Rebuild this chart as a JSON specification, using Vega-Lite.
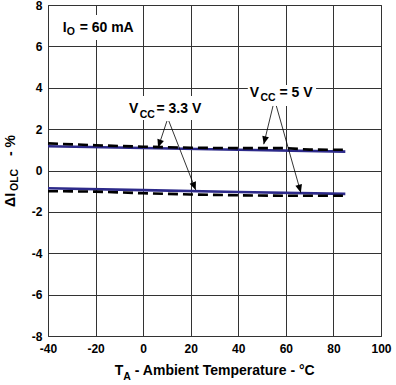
{
  "$schema": "https://vega.github.io/schema/vega-lite/v6.json",
  "width": 333,
  "height": 331,
  "autosize": {"type": "none"},
  "padding": {"left": 48, "top": 5, "right": 15, "bottom": 49},
  "background": "white",
  "config": {
    "view": {"stroke": "#333333", "strokeWidth": 1},
    "font": "Liberation Sans",
    "axis": {
      "grid": true,
      "gridColor": "#333333",
      "gridWidth": 1,
      "gridOpacity": 1,
      "ticks": false,
      "domain": false,
      "labelFont": "Liberation Sans",
      "labelFontSize": 12,
      "labelFontWeight": "bold",
      "labelColor": "#000000",
      "labelFlush": false,
      "labelOverlap": false,
      "labelExpr": "'' + datum.value"
    },
    "axisX": {"tickCount": 7, "labelPadding": 7},
    "axisY": {"tickCount": 8, "labelPadding": 6}
  },
  "datasets": {
    "lines": [
      {"vcc": "3.3 V", "bound": "upper", "t": -40, "d": 1.17},
      {"vcc": "3.3 V", "bound": "upper", "t": 0, "d": 1.09},
      {"vcc": "3.3 V", "bound": "upper", "t": 40, "d": 1.0},
      {"vcc": "3.3 V", "bound": "upper", "t": 85, "d": 0.91},
      {"vcc": "3.3 V", "bound": "lower", "t": -40, "d": -0.86},
      {"vcc": "3.3 V", "bound": "lower", "t": 0, "d": -0.95},
      {"vcc": "3.3 V", "bound": "lower", "t": 40, "d": -1.04},
      {"vcc": "3.3 V", "bound": "lower", "t": 85, "d": -1.13},
      {"vcc": "5 V", "bound": "upper", "t": -40, "d": 1.31},
      {"vcc": "5 V", "bound": "upper", "t": -20, "d": 1.22},
      {"vcc": "5 V", "bound": "upper", "t": 0, "d": 1.15},
      {"vcc": "5 V", "bound": "upper", "t": 20, "d": 1.1},
      {"vcc": "5 V", "bound": "upper", "t": 40, "d": 1.08},
      {"vcc": "5 V", "bound": "upper", "t": 60, "d": 1.08},
      {"vcc": "5 V", "bound": "upper", "t": 70, "d": 1.01},
      {"vcc": "5 V", "bound": "upper", "t": 85, "d": 1.0},
      {"vcc": "5 V", "bound": "lower", "t": -40, "d": -1.0},
      {"vcc": "5 V", "bound": "lower", "t": -20, "d": -1.02},
      {"vcc": "5 V", "bound": "lower", "t": 0, "d": -1.1},
      {"vcc": "5 V", "bound": "lower", "t": 20, "d": -1.16},
      {"vcc": "5 V", "bound": "lower", "t": 40, "d": -1.2},
      {"vcc": "5 V", "bound": "lower", "t": 60, "d": -1.22},
      {"vcc": "5 V", "bound": "lower", "t": 85, "d": -1.22}
    ],
    "boxes": [
      {"t": -35.9, "t2": -2.3, "d": 6.31, "d2": 7.52},
      {"t": -7.7, "t2": 26.7, "d": 2.44, "d2": 3.6},
      {"t": 44.0, "t2": 72.7, "d": 3.12, "d2": 4.13}
    ],
    "arrows": [
      {"id": "a1", "t": 10.0, "d": 2.39, "t2": 6.3, "d2": 1.11},
      {"id": "a2", "t": 10.8, "d": 2.39, "t2": 22.1, "d2": -0.94},
      {"id": "a3", "t": 54.6, "d": 3.12, "t2": 50.7, "d2": 1.27},
      {"id": "a4", "t": 56.0, "d": 3.12, "t2": 66.3, "d2": -1.07}
    ],
    "mainText": [
      {"label": "I", "t": -33.8, "d": 6.71},
      {"label": "= 60 mA", "t": -26.7, "d": 6.71},
      {"label": "V", "t": -5.94, "d": 2.77},
      {"label": "= 3.3 V", "t": 5.6, "d": 2.77},
      {"label": "V", "t": 44.82, "d": 3.57},
      {"label": "= 5 V", "t": 57.3, "d": 3.57},
      {"label": "T", "t": -11.95, "d": -9.88},
      {"label": "- Ambient Temperature - °C", "t": -3.5, "d": -9.88}
    ],
    "subText": [
      {"label": "O", "t": -32.1, "d": 6.55},
      {"label": "CC", "t": -1.44, "d": 2.55},
      {"label": "CC", "t": 49.3, "d": 3.37},
      {"label": "A", "t": -8.4, "d": -10.14}
    ],
    "yTitleMain": [
      {"label": "ΔI", "t": -54.0, "d": -1.76},
      {"label": "- %", "t": -54.0, "d": 0.7}
    ],
    "yTitleSub": [
      {"label": "OLC", "t": -52.7, "d": -0.99}
    ]
  },
  "encoding": {
    "x": {"field": "t", "type": "quantitative", "title": null, "scale": {"domain": [-40, 100], "nice": false, "zero": false}},
    "y": {"field": "d", "type": "quantitative", "title": null, "scale": {"domain": [-8, 8], "nice": false, "zero": false}}
  },
  "layer": [
    {
      "data": {"name": "boxes"},
      "mark": {"type": "rect", "fill": "white", "stroke": null},
      "encoding": {
        "x2": {"field": "t2"},
        "y2": {"field": "d2"}
      }
    },
    {
      "data": {"name": "lines"},
      "transform": [{"filter": "datum.vcc === '3.3 V'"}],
      "mark": {"type": "line", "color": "#2d2a8a", "strokeWidth": 2.6},
      "encoding": {"detail": {"field": "bound"}}
    },
    {
      "data": {"name": "lines"},
      "transform": [{"filter": "datum.vcc === '5 V'"}],
      "mark": {"type": "line", "color": "#000000", "strokeWidth": 2.6, "strokeDash": [10, 5]},
      "encoding": {"detail": {"field": "bound"}}
    },
    {
      "data": {"name": "arrows"},
      "mark": {"type": "rule", "color": "#000000", "strokeWidth": 0.8},
      "encoding": {
        "x2": {"field": "t2"},
        "y2": {"field": "d2"}
      }
    },
    {
      "data": {"name": "arrows"},
      "transform": [{"filter": "datum.id === 'a1'"}],
      "mark": {"type": "point", "shape": "M0,0L-0.85,2L0.85,2Z", "filled": true, "color": "#000000", "size": 64, "opacity": 1, "angle": 198.4},
      "encoding": {"x": {"field": "t2", "type": "quantitative"}, "y": {"field": "d2", "type": "quantitative"}}
    },
    {
      "data": {"name": "arrows"},
      "transform": [{"filter": "datum.id === 'a2'"}],
      "mark": {"type": "point", "shape": "M0,0L-0.85,2L0.85,2Z", "filled": true, "color": "#000000", "size": 64, "opacity": 1, "angle": 158.6},
      "encoding": {"x": {"field": "t2", "type": "quantitative"}, "y": {"field": "d2", "type": "quantitative"}}
    },
    {
      "data": {"name": "arrows"},
      "transform": [{"filter": "datum.id === 'a3'"}],
      "mark": {"type": "point", "shape": "M0,0L-0.85,2L0.85,2Z", "filled": true, "color": "#000000", "size": 64, "opacity": 1, "angle": 193.6},
      "encoding": {"x": {"field": "t2", "type": "quantitative"}, "y": {"field": "d2", "type": "quantitative"}}
    },
    {
      "data": {"name": "arrows"},
      "transform": [{"filter": "datum.id === 'a4'"}],
      "mark": {"type": "point", "shape": "M0,0L-0.85,2L0.85,2Z", "filled": true, "color": "#000000", "size": 64, "opacity": 1, "angle": 164.3},
      "encoding": {"x": {"field": "t2", "type": "quantitative"}, "y": {"field": "d2", "type": "quantitative"}}
    },
    {
      "data": {"name": "mainText"},
      "mark": {"type": "text", "font": "Liberation Sans", "fontWeight": "bold", "fontSize": 14, "align": "left", "baseline": "alphabetic", "color": "#000000"},
      "encoding": {"text": {"field": "label"}}
    },
    {
      "data": {"name": "subText"},
      "mark": {"type": "text", "font": "Liberation Sans", "fontWeight": "bold", "fontSize": 10.5, "align": "left", "baseline": "alphabetic", "color": "#000000"},
      "encoding": {"text": {"field": "label"}}
    },
    {
      "data": {"name": "yTitleMain"},
      "mark": {"type": "text", "font": "Liberation Sans", "fontWeight": "bold", "fontSize": 14, "align": "left", "baseline": "alphabetic", "angle": 270, "color": "#000000"},
      "encoding": {"text": {"field": "label"}}
    },
    {
      "data": {"name": "yTitleSub"},
      "mark": {"type": "text", "font": "Liberation Sans", "fontWeight": "bold", "fontSize": 10.5, "align": "left", "baseline": "alphabetic", "angle": 270, "color": "#000000"},
      "encoding": {"text": {"field": "label"}}
    }
  ]
}
